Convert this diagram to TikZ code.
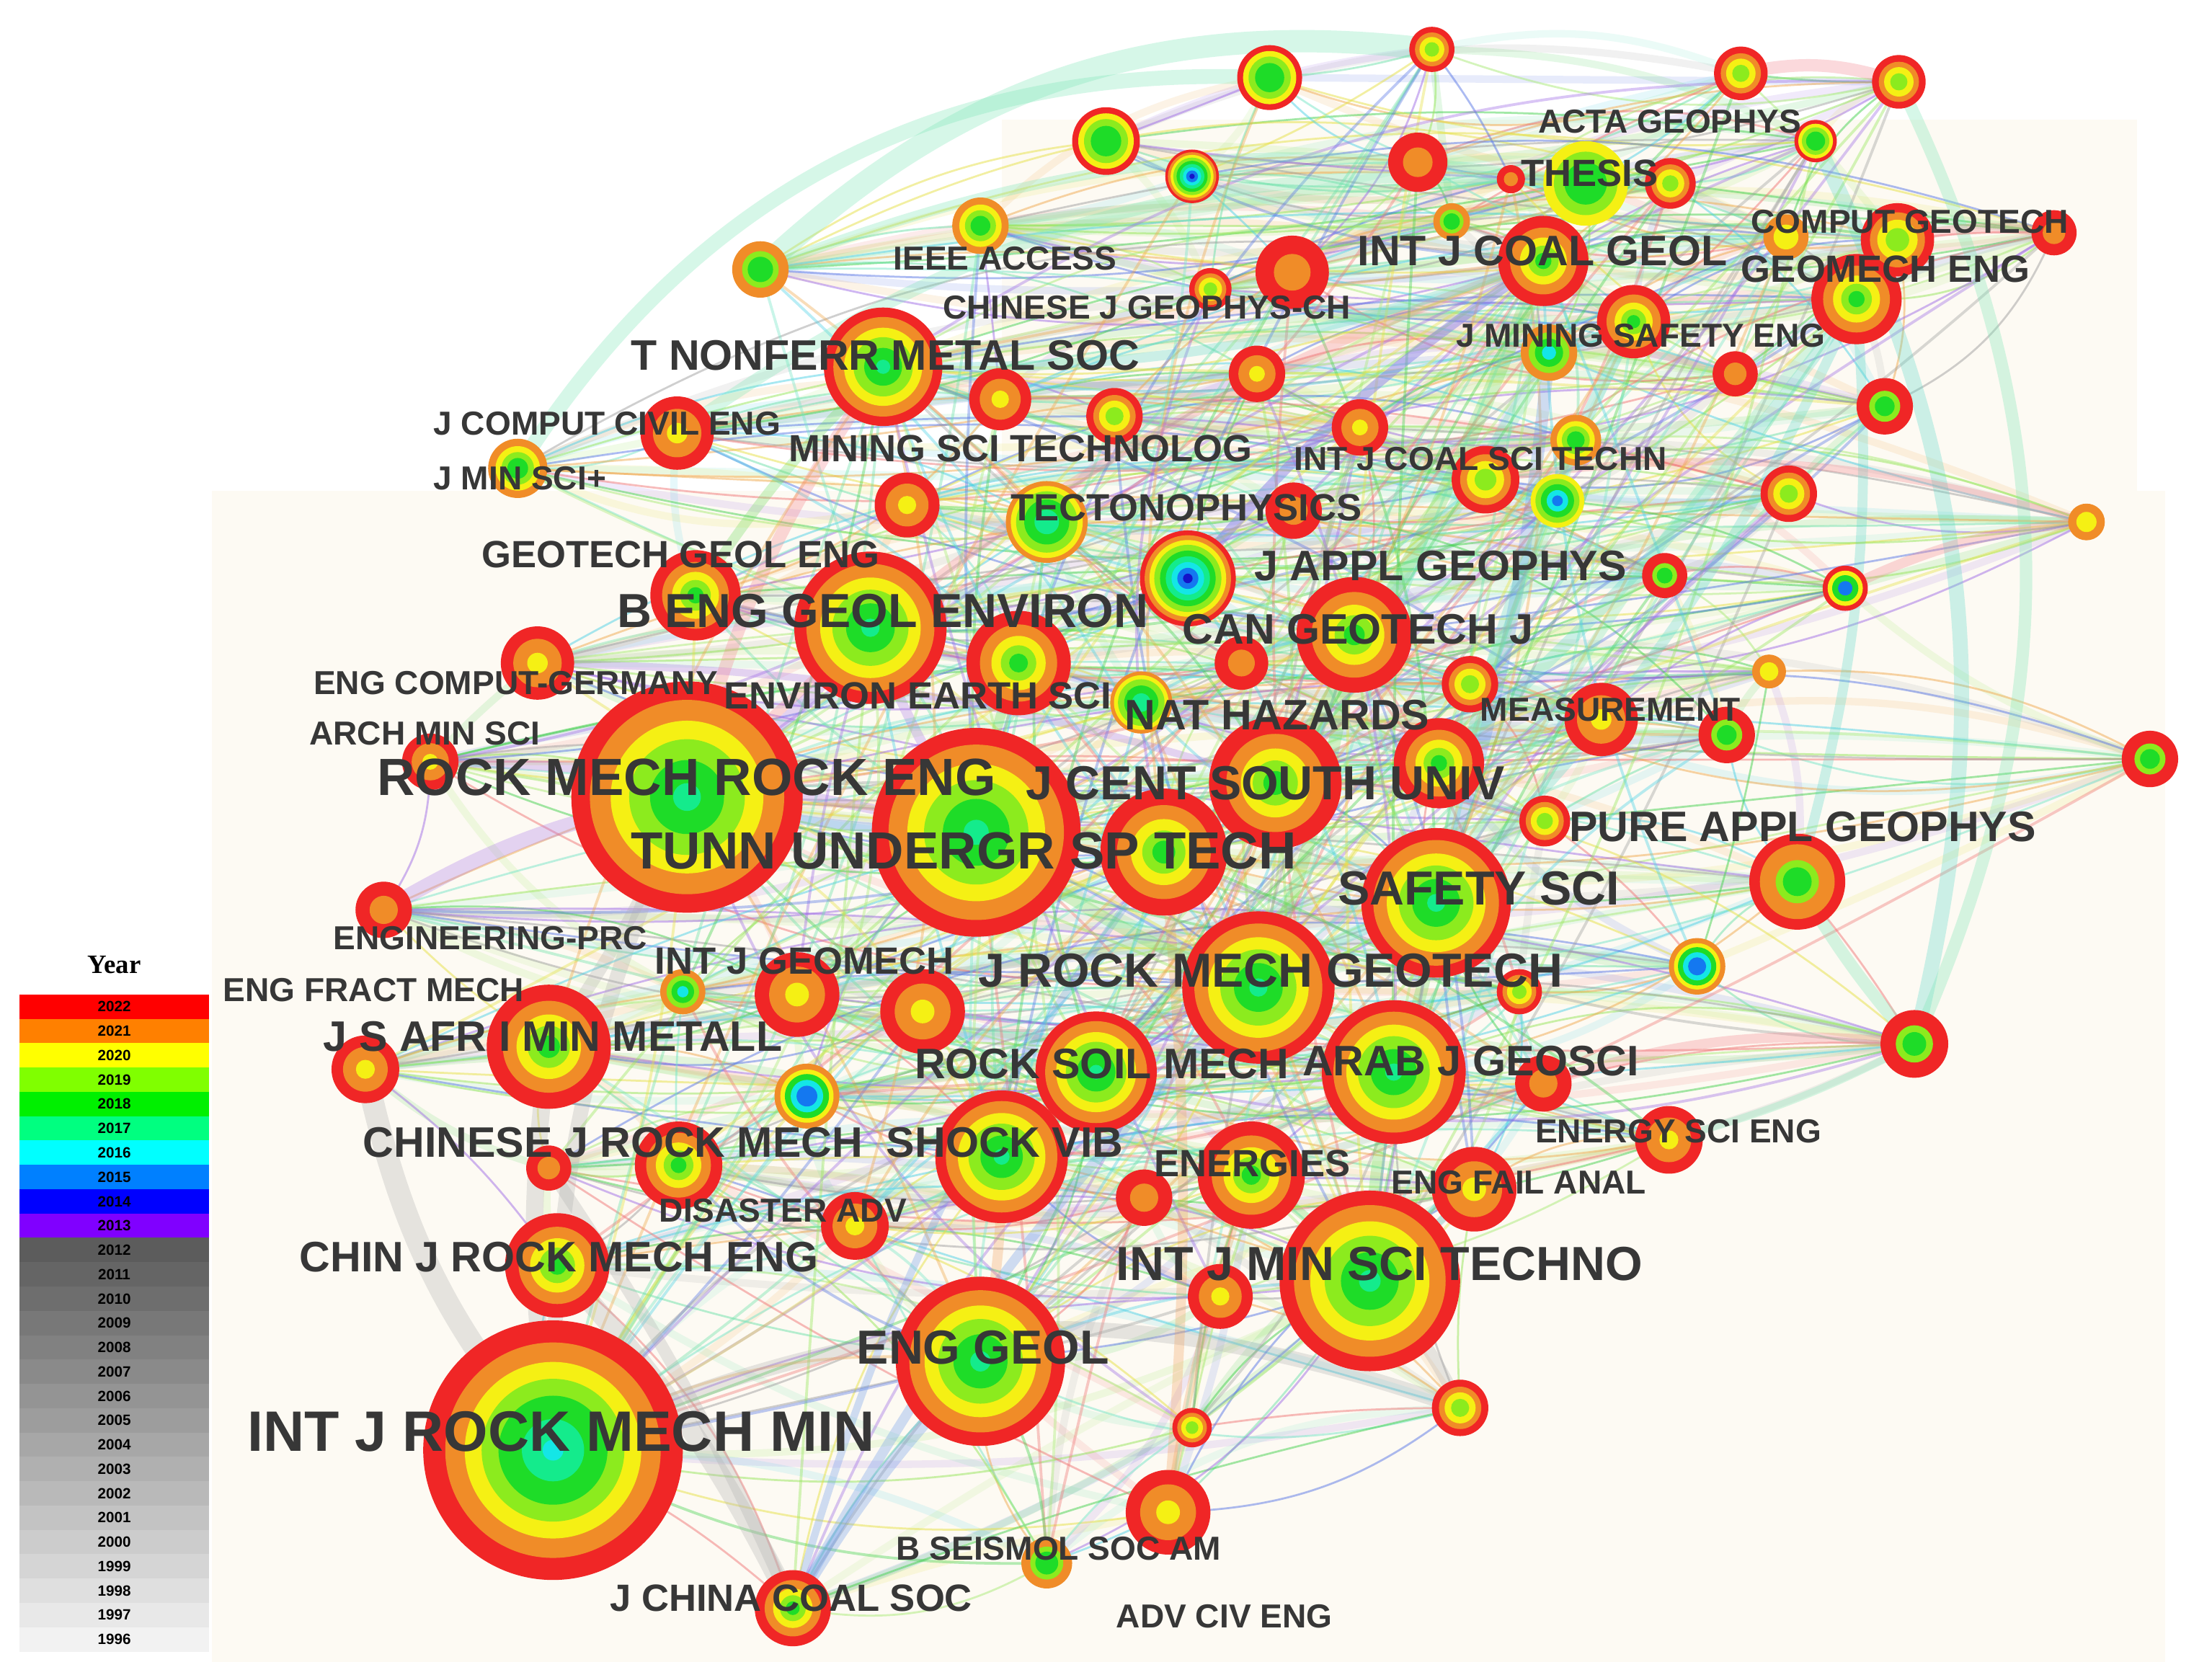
\documentclass[tikz,border=0pt]{standalone}
\usepackage{fontspec}
\setmainfont{Liberation Sans}
\newfontfamily\yearfont{Liberation Serif}
\definecolor{cR}{RGB}{240,38,38}
\definecolor{cO}{RGB}{240,140,40}
\definecolor{cY}{RGB}{245,240,20}
\definecolor{cLG}{RGB}{140,235,30}
\definecolor{cG}{RGB}{30,220,40}
\definecolor{cSG}{RGB}{20,235,140}
\definecolor{cC}{RGB}{20,230,230}
\definecolor{cB}{RGB}{20,120,240}
\definecolor{cDB}{RGB}{20,20,200}
\definecolor{labc}{RGB}{55,55,55}
\definecolor{bgc}{RGB}{253,250,243}
\definecolor{ec0}{RGB}{110,225,170}
\definecolor{ec1}{RGB}{150,230,90}
\definecolor{ec2}{RGB}{70,210,80}
\definecolor{ec3}{RGB}{80,210,230}
\definecolor{ec4}{RGB}{90,120,230}
\definecolor{ec5}{RGB}{160,110,230}
\definecolor{ec6}{RGB}{240,120,120}
\definecolor{ec7}{RGB}{240,170,80}
\definecolor{ec8}{RGB}{230,225,70}
\definecolor{ec9}{RGB}{160,160,160}
\definecolor{ec10}{RGB}{170,235,120}
\definecolor{ec11}{RGB}{120,230,200}
\definecolor{bgray}{RGB}{175,175,175}
\definecolor{bmint}{RGB}{120,230,180}
\definecolor{bteal}{RGB}{90,215,200}
\definecolor{bpink}{RGB}{245,130,140}
\definecolor{bpurp}{RGB}{170,120,235}
\definecolor{bblue}{RGB}{100,150,235}
\definecolor{bgreen}{RGB}{110,220,90}
\definecolor{borange}{RGB}{240,160,90}
\newcommand\labS{\fontsize{13.4}{14}\selectfont\bfseries}
\newcommand\labM{\fontsize{15.3}{16}\selectfont\bfseries}
\newcommand\labL{\fontsize{17.2}{18}\selectfont\bfseries}
\newcommand\labXL{\fontsize{19.3}{20}\selectfont\bfseries}
\newcommand\labXXL{\fontsize{21.1}{22}\selectfont\bfseries}
\newcommand\labXXXL{\fontsize{23}{24}\selectfont\bfseries}
\newcommand\legfont{\fontsize{6}{6}\selectfont\bfseries}
\def\schA{cR/1,cO/.84,cY/.66,cLG/.5,cG/.32,cSG/.12}
\def\schL{cR/1,cO/.83,cY/.68,cLG/.55,cG/.42,cSG/.24,cC/.08}
\def\schB{cR/1,cO/.74,cY/.52,cLG/.34,cG/.18}
\def\schC{cR/1,cO/.66,cY/.28}
\def\schD{cR/1,cO/.75,cY/.55,cLG/.32}
\def\schE{cR/1,cO/.5}
\def\schF{cR/1,cLG/.55,cG/.35}
\def\schG{cO/1,cY/.75,cLG/.55,cG/.35}
\def\schH{cR/1,cO/.9,cY/.8,cLG/.7,cG/.58,cSG/.46,cC/.34,cB/.22,cDB/.1}
\def\schI{cY/1,cLG/.75,cG/.5}
\def\schJ{cO/1,cY/.82,cG/.68,cC/.5,cB/.32}
\def\schK{cY/1,cLG/.82,cG/.62,cC/.4,cB/.2}
\def\schM{cO/1,cLG/.65,cG/.45}
\def\schN{cO/1,cY/.55}
\def\schO{cO/1,cY/.88,cLG/.75,cG/.55,cSG/.3}
\def\schP{cR/1,cY/.82,cLG/.65,cG/.45}
\def\schQ{cO/1,cLG/.72,cG/.5,cC/.25}
\def\schR{cR/1,cY/.78,cG/.58,cB/.32}
\def\schS{cR/1,cO/.78,cLG/.45,cG/.3}
\def\nodelist{1/1015/35/16/D,2/900/55/23/P,3/1234/52/19/D,4/1346/58/19/D,5/784/100/24/P,6/845/125/19/H,7/1005/115/21/E,8/1287/100/15/P,9/1124/130/30/I,10/1071/127/10/E,11/1184/130/18/D,12/1029/157/13/M,13/695/160/20/G,14/539/191/20/M,15/916/193/26/E,16/858/205/15/D,17/1094/185/32/B,18/1266/168/16/N,19/1345/170/26/D,20/1456/165/16/E,21/1316/212/32/B,22/1158/228/26/B,23/1098/250/20/Q,24/1230/265/16/E,25/1336/288/20/F,26/626/260/42/A,27/709/283/22/C,28/891/265/20/C,29/790/295/20/D,30/480/307/26/C,31/367/332/21/G,32/964/303/20/C,33/1117/312/18/G,34/1053/340/24/D,35/1104/355/19/K,36/1268/350/20/D,37/1479/370/13/N,38/643/358/23/C,39/742/370/29/O,40/917/362/20/E,41/493/422/32/B,42/842/410/34/H,43/1180/408/16/F,44/1308/417/16/R,45/617/445/54/A,46/960/450/41/B,47/722/470/37/B,48/880/470/19/E,49/381/470/26/C,50/809/498/22/O,51/1042/485/20/D,52/1254/476/12/N,53/1135/510/26/C,54/1224/521/20/F,55/1524/538/20/F,56/305/540/20/C,57/487/565/82/A,58/904/555/47/B,59/1020/541/32/B,60/1095/582/18/D,61/692/590/74/A,62/825/604/45/B,63/1274/625/34/S,64/1018/640/53/A,65/272/645/20/E,66/1203/685/20/J,67/484/703/16/Q,68/565/705/30/C,69/654/717/30/C,70/892/700/54/A,71/1077/703/16/D,72/1357/740/24/F,73/259/758/24/C,74/389/742/44/B,75/572/777/23/J,76/777/760/43/A,77/988/760/51/A,78/1094/768/20/E,79/1183/808/24/C,80/389/828/16/E,81/481/826/31/B,82/710/820/47/A,83/887/833/38/B,84/811/849/20/E,85/1045/843/30/C,86/606/869/24/C,87/395/897/37/B,88/865/919/23/C,89/971/908/64/A,90/695/965/60/A,91/1035/998/20/D,92/845/1012/14/D,93/392/1028/92/L,94/828/1072/30/C,95/742/1108/18/M,96/562/1140/27/B}
\begin{document}
\begin{tikzpicture}[x=0.02cm,y=-0.02cm,
  lbl/.style={anchor=west,inner sep=0pt,text=labc},
  thinedge/.style={line width=0.8pt,opacity=0.5},
  hazeedge/.style={line width=3pt,opacity=0.14},
  hubedge/.style={line width=1.1pt,opacity=0.4},
  band/.style={opacity=0.3,line cap=round},
  legbar/.style={minimum width=2.68cm,minimum height=0.347cm,inner sep=0pt,font=\legfont}]
\useasboundingbox (0,0) rectangle (1568,1178);
\fill[white] (0,0) rectangle (1568,1178);
\fill[bgc] (150,348) rectangle (1535,1178);
\fill[bgc] (710,85) rectangle (1515,348);
% node coordinates
\foreach \nm/\x/\y/\rr/\ringset in \nodelist {\coordinate (n\nm) at (\x,\y);}
% haze edges (wide, faint)
\foreach \st in {2,4,7,11} {
  \pgfmathtruncatemacro\lim{96-\st}
  \foreach \i in {1,...,\lim} {
    \pgfmathtruncatemacro\j{\i+\st}
    \pgfmathtruncatemacro\cc{mod(\i*5+\st*3,12)}
    \pgfmathtruncatemacro\bb{mod(\i*23+\st*7,40)-20}
    \colorlet{curedge}{ec\cc}
    \draw[hazeedge,curedge] (n\i) to[bend left=\bb] (n\j);
  }
}
% thin edges
\foreach \st in {1,3,5,6,9,14} {
  \pgfmathtruncatemacro\lim{96-\st}
  \foreach \i in {1,...,\lim} {
    \pgfmathtruncatemacro\j{\i+\st}
    \pgfmathtruncatemacro\cc{mod(\i*7+\st*5,12)}
    \pgfmathtruncatemacro\bb{mod(\i*17+\st*11,44)-22}
    \colorlet{curedge}{ec\cc}
    \draw[thinedge,curedge] (n\i) to[bend left=\bb] (n\j);
  }
}
% hub edges
\foreach \h in {57,61,93,45,70,64,89,58,90,26,17,82,76,77,46,62} {
  \foreach \k in {1,...,16} {
    \pgfmathtruncatemacro\j{mod(\h*3+\k*7,96)+1}
    \pgfmathtruncatemacro\cc{mod(\h+\k*5,12)}
    \pgfmathtruncatemacro\bb{mod(\h*13+\k*19,36)-18}
    \colorlet{curedge}{ec\cc}
    \draw[hubedge,curedge] (n\h) to[bend left=\bb] (n\j);
  }
}
% thick bands
\foreach \a/\b/\cl/\w/\bb in {93/91/bgray/6/22,89/91/bgray/5/10,87/96/bgray/8/8,73/93/bgray/9/-14,74/93/bgray/7/-8,80/96/bgray/5/5,57/93/bgray/6/-12,65/57/bpurp/6/10,56/61/bpurp/4/6,49/58/bpurp/3/8,14/1/bmint/9/25,31/2/bmint/6/30,30/9/bmint/5/20,14/9/bmint/4/15,72/8/bteal/6/-20,72/4/bmint/5/-25,63/21/bteal/4/-10,72/63/bmint/5/5,72/78/bpink/4/-12,44/37/bpink/4/10,34/37/bpink/3/12,3/4/bpink/5/15,19/20/bpink/4/10,79/72/bmint/3/-6,89/77/bgreen/5/5,70/64/bteal/5/8,58/17/bgreen/6/-6,61/57/bblue/4/6,45/61/bpurp/4/-6,42/17/bblue/4/8,64/21/bteal/4/-10,23/64/bblue/5/6,96/90/bblue/5/6,96/70/bblue/4/8,96/62/bblue/3/10,94/62/borange/4/-5,94/83/borange/3/5,41/26/bgreen/4/6,57/26/bpink/5/10,57/17/bpink/4/12,26/17/bteal/4/-10,61/70/bgreen/5/-8,57/74/bgray/5/6,90/82/borange/4/-6,17/9/bmint/6/8,17/22/bgreen/5/-6,23/46/bmint/6/6,22/64/bteal/5/-8,9/11/bmint/4/10,17/42/bpurp/4/-8,21/59/bteal/5/6,19/64/bmint/4/-5,46/70/bgreen/5/6,58/62/bgreen/5/-6,45/57/bpurp/5/8,47/61/bgreen/4/-6,76/82/borange/4/6,89/83/bgreen/4/-6,64/77/bgreen/5/8,33/59/bmint/4/6} {
  \draw[band,\cl,line width=\w pt] (n\a) to[bend left=\bb] (n\b);
}
% node discs
\foreach \nm/\x/\y/\rr/\ringset in \nodelist {
  \expandafter\let\expandafter\rings\csname sch\ringset\endcsname
  \foreach \cl/\ff in \rings {\fill[color=\cl] (\x,\y) circle[radius=\ff*\rr*0.02cm];}
}
% labels
\node[lbl,font=\labS] (t1) at (1090,86) {ACTA GEOPHYS};
\node[lbl,font=\labM] (t2) at (1078,123) {THESIS};
\node[lbl,font=\labS] (t3) at (1241,157) {COMPUT GEOTECH};
\node[lbl,font=\labL] (t4) at (962,178) {INT J COAL GEOL};
\node[lbl,font=\labS] (t5) at (633,183) {IEEE ACCESS};
\node[lbl,font=\labM] (t6) at (1234,191) {GEOMECH ENG};
\node[lbl,font=\labS] (t7) at (668,218) {CHINESE J GEOPHYS-CH};
\node[lbl,font=\labS] (t8) at (1032,238) {J MINING SAFETY ENG};
\node[lbl,font=\labL] (t9) at (447,252) {T NONFERR METAL SOC};
\node[lbl,font=\labS] (t10) at (307,300) {J COMPUT CIVIL ENG};
\node[lbl,font=\labM] (t11) at (559,318) {MINING SCI TECHNOLOG};
\node[lbl,font=\labS] (t12) at (917,325) {INT J COAL SCI TECHN};
\node[lbl,font=\labS] (t13) at (307,339) {J MIN SCI+};
\node[lbl,font=\labM] (t14) at (716,360) {TECTONOPHYSICS};
\node[lbl,font=\labM] (t15) at (341,393) {GEOTECH GEOL ENG};
\node[lbl,font=\labL] (t16) at (889,401) {J APPL GEOPHYS};
\node[lbl,font=\labXL] (t17) at (437,433) {B ENG GEOL ENVIRON};
\node[lbl,font=\labL] (t18) at (838,446) {CAN GEOTECH J};
\node[lbl,font=\labS] (t19) at (222,484) {ENG COMPUT-GERMANY};
\node[lbl,font=\labM] (t20) at (513,493) {ENVIRON EARTH SCI};
\node[lbl,font=\labS] (t21) at (1049,503) {MEASUREMENT};
\node[lbl,font=\labL] (t22) at (797,507) {NAT HAZARDS};
\node[lbl,font=\labS] (t23) at (219,520) {ARCH MIN SCI};
\node[lbl,font=\labXXL] (t24) at (267,551) {ROCK MECH ROCK ENG};
\node[lbl,font=\labXL] (t25) at (727,555) {J CENT SOUTH UNIV};
\node[lbl,font=\labL] (t26) at (1112,586) {PURE APPL GEOPHYS};
\node[lbl,font=\labXXL] (t27) at (447,603) {TUNN UNDERGR SP TECH};
\node[lbl,font=\labXL] (t28) at (948,630) {SAFETY SCI};
\node[lbl,font=\labS] (t29) at (236,665) {ENGINEERING-PRC};
\node[lbl,font=\labM] (t30) at (464,681) {INT J GEOMECH};
\node[lbl,font=\labXL] (t31) at (693,688) {J ROCK MECH GEOTECH};
\node[lbl,font=\labS] (t32) at (158,702) {ENG FRACT MECH};
\node[lbl,font=\labL] (t33) at (229,735) {J S AFR I MIN METALL};
\node[lbl,font=\labL] (t34) at (648,754) {ROCK SOIL MECH};
\node[lbl,font=\labL] (t35) at (923,752) {ARAB J GEOSCI};
\node[lbl,font=\labS] (t36) at (1088,802) {ENERGY SCI ENG};
\node[lbl,font=\labL] (t37) at (257,810) {CHINESE J ROCK MECH};
\node[lbl,font=\labL] (t38) at (628,810) {SHOCK VIB};
\node[lbl,font=\labM] (t39) at (818,825) {ENERGIES};
\node[lbl,font=\labS] (t40) at (986,838) {ENG FAIL ANAL};
\node[lbl,font=\labS] (t41) at (467,858) {DISASTER ADV};
\node[lbl,font=\labL] (t42) at (212,891) {CHIN J ROCK MECH ENG};
\node[lbl,font=\labXL] (t43) at (791,896) {INT J MIN SCI TECHNO};
\node[lbl,font=\labXL] (t44) at (607,955) {ENG GEOL};
\node[lbl,font=\labXXXL] (t45) at (175,1015) {INT J ROCK MECH MIN};
\node[lbl,font=\labS] (t46) at (635,1098) {B SEISMOL SOC AM};
\node[lbl,font=\labM] (t47) at (432,1133) {J CHINA COAL SOC};
\node[lbl,font=\labS] (t48) at (791,1146) {ADV CIV ENG};
% legend
\node[font=\yearfont\fontsize{10.7}{11}\selectfont\bfseries] (ytitle) at (81,684) {Year};
\foreach \yr/\hx [count=\k from 0] in {2022/FF0000,2021/FF8000,2020/FFFF00,2019/80FF00,2018/00F000,2017/00FF80,2016/00FFFF,2015/0080FF,2014/0000FF,2013/8000FF} {
  \definecolor{legc}{HTML}{\hx}
  \node[legbar,fill=legc] (y\yr) at (81,{705+17.25*(\k+0.5)}) {\yr};
}
\foreach \yr [count=\k from 0] in {2012,2011,2010,2009,2008,2007,2006,2005,2004,2003,2002,2001,2000,1999,1998,1997,1996} {
  \pgfmathtruncatemacro\g{92+\k*150/16}
  \definecolor{legc}{RGB}{\g,\g,\g}
  \node[legbar,fill=legc] (y\yr) at (81,{705+17.25*(\k+10.5)}) {\yr};
}
\end{tikzpicture}
\end{document}
